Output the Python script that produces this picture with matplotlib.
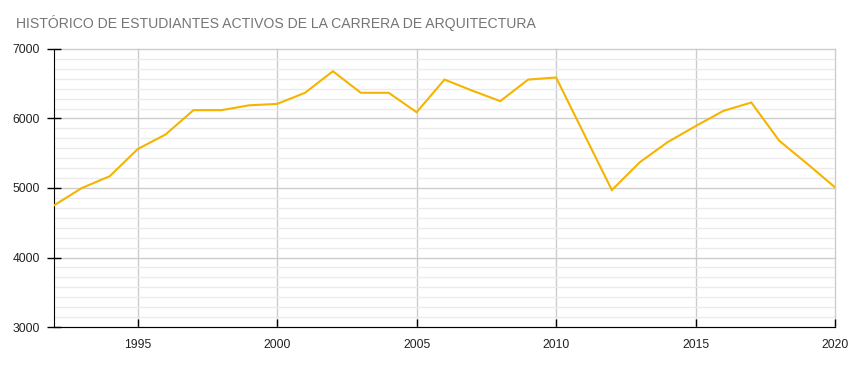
import matplotlib.pyplot as plt
import numpy as np

# Datos
anios = list(range(1992, 2021))
estudiantes = [4750, 5000, 5170, 5560, 5770, 6120, 6120, 6190, 6210, 6370,
               6680, 6370, 6370, 6090, 6560, 6400, 6250, 6560, 6590, 5780,
               4970, 5370, 5660, 5890, 6110, 6230, 5680, 5350, 5010]

ticks_x = [1995, 2000, 2005, 2010, 2015, 2020]
ticks_y = [3000, 4000, 5000, 6000, 7000]

plt.rcParams['font.family'] = ['Liberation Sans', 'DejaVu Sans']

fig = plt.figure(figsize=(8.53, 3.68), dpi=100)
ax = fig.add_axes([54 / 853, 41 / 368, 781 / 853, 278 / 368])

ax.plot(anios, estudiantes, color='#F4B400', linewidth=1.5, zorder=3,
        solid_joinstyle='miter')

ax.set_xlim(1992, 2020)
ax.set_ylim(3000, 7000)

# Cuadrícula
ax.set_xticks(ticks_x)
ax.set_yticks(ticks_y)
ax.set_yticks(np.linspace(3000, 7000, 29), minor=True)
ax.grid(which='major', color='#cccccc', linewidth=1)
ax.grid(which='minor', axis='y', color='#ebebeb', linewidth=1)
ax.set_axisbelow(True)
for g in ax.get_xgridlines() + ax.get_ygridlines():
    g.set_clip_on(False)

# Ejes
ax.spines['top'].set_visible(False)
ax.spines['right'].set_visible(False)
ax.spines['left'].set_color('black')
ax.spines['bottom'].set_color('black')
ax.tick_params(axis='x', direction='in', length=6, width=1, color='black',
               labelsize=8.7, labelcolor='#222222', pad=8.5)
ax.tick_params(axis='y', direction='inout', length=10, width=1, color='black',
               labelsize=8.7, labelcolor='#222222', pad=5)
ax.tick_params(which='minor', length=0)

fig.text(16 / 853, 1 - 28 / 368, 'HISTÓRICO DE ESTUDIANTES ACTIVOS DE LA CARRERA DE ARQUITECTURA',
         fontsize=10.1, color='#757575', ha='left', va='baseline')

fig.savefig('out.png', dpi=100)
